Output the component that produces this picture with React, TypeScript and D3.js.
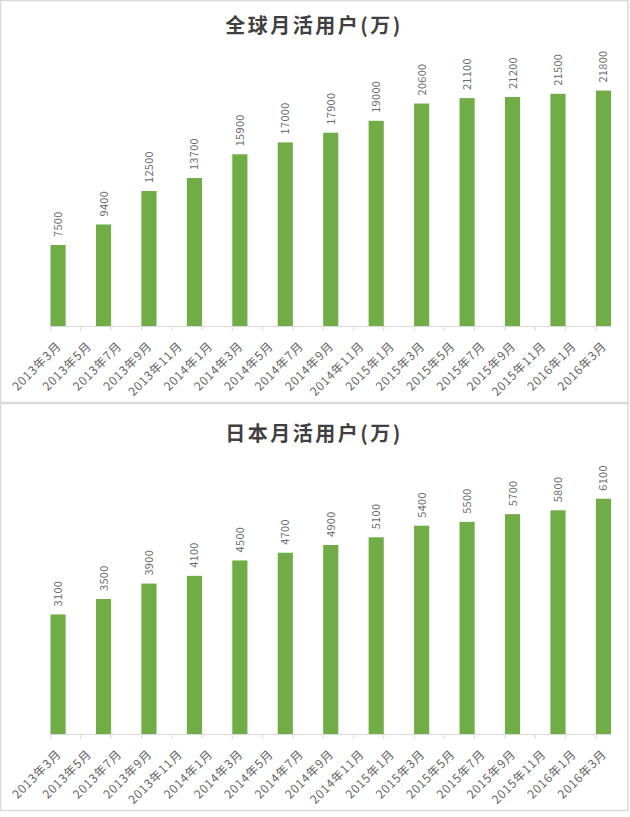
import { useRef, useEffect } from 'react'
import * as d3 from 'd3'

// quarterly data points
const periods = [
  '2013年3月', '2013年6月', '2013年9月', '2013年12月',
  '2014年3月', '2014年6月', '2014年9月', '2014年12月',
  '2015年3月', '2015年6月', '2015年9月', '2015年12月',
  '2016年3月'
]
const globalMAU = [7500, 9400, 12500, 13700, 15900, 17000, 17900, 19000, 20600, 21100, 21200, 21500, 21800]
const japanMAU = [3100, 3500, 3900, 4100, 4500, 4700, 4900, 5100, 5400, 5500, 5700, 5800, 6100]

// axis tick labels (every two months)
const tickLabels = [
  '2013年3月', '2013年5月', '2013年7月', '2013年9月', '2013年11月',
  '2014年1月', '2014年3月', '2014年5月', '2014年7月', '2014年9月', '2014年11月',
  '2015年1月', '2015年3月', '2015年5月', '2015年7月', '2015年9月', '2015年11月',
  '2016年1月', '2016年3月'
]

const W = 630
const H = 817
const GREEN = '#70AD47'
const FONT = '"Noto Sans CJK SC", "Open Sans", sans-serif'

// month index counted from 2013年3月
function monthIndex(label: string) {
  const m = label.match(/(\d+)年(\d+)月/)
  if (!m) return 0
  return (+m[1] - 2013) * 12 + (+m[2] - 3)
}

interface PanelSpec {
  title: string
  values: number[]
  yMax: number
  top: number
  height: number
  baseline: number
  plotTop: number
  titleY: number
}

const panels: PanelSpec[] = [
  { title: '全球月活用户(万)', values: globalMAU, yMax: 25000, top: 0, height: 403, baseline: 326, plotTop: 56, titleY: 33 },
  { title: '日本月活用户(万)', values: japanMAU, yMax: 7000, top: 403, height: 408, baseline: 734, plotTop: 464, titleY: 441 }
]

export default function App() {
  const svgRef = useRef<SVGSVGElement>(null)

  useEffect(() => {
    if (!svgRef.current) return
    const svg = d3.select(svgRef.current)
    svg.selectAll('*').remove()

    const lastMonth = monthIndex(periods[periods.length - 1]) + 1
    const x = d3.scaleLinear().domain([0, lastMonth]).range([50.5, 611])

    panels.forEach(p => {
      const g = svg.append('g')

      // panel frame
      g.append('rect')
        .attr('x', 0.5)
        .attr('y', p.top + 0.5)
        .attr('width', 627.5)
        .attr('height', p.height - 1)
        .attr('fill', '#fff')
        .attr('stroke', '#d9d9d9')
        .attr('stroke-width', 1.5)

      g.append('text')
        .attr('x', 314)
        .attr('y', p.titleY)
        .attr('text-anchor', 'middle')
        .attr('font-family', FONT)
        .attr('font-size', 20)
        .attr('font-weight', 'bold')
        .attr('letter-spacing', 2.5)
        .attr('fill', '#404040')
        .text(p.title)

      const y = d3.scaleLinear().domain([0, p.yMax]).range([p.baseline, p.plotTop])

      // bars
      g.selectAll('.bar')
        .data(p.values)
        .enter()
        .append('rect')
        .attr('x', (_, i) => x(monthIndex(periods[i])))
        .attr('y', d => y(d))
        .attr('width', (_, i) => x(monthIndex(periods[i]) + 1) - x(monthIndex(periods[i])))
        .attr('height', d => p.baseline - y(d))
        .attr('fill', GREEN)

      // data labels
      g.selectAll('.val')
        .data(p.values)
        .enter()
        .append('text')
        .attr('transform', (d, i) => {
          const cx = x(monthIndex(periods[i]) + 0.5) + 4
          return `translate(${cx},${y(d) - 8}) rotate(-90)`
        })
        .attr('font-family', FONT)
        .attr('font-size', 11)
        .attr('letter-spacing', 0.3)
        .attr('fill', '#6a6a6a')
        .text(d => String(d))

      // axis line
      g.append('line')
        .attr('x1', x(0))
        .attr('x2', x(lastMonth))
        .attr('y1', p.baseline + 0.5)
        .attr('y2', p.baseline + 0.5)
        .attr('stroke', '#d9d9d9')
        .attr('stroke-width', 1)

      // ticks
      g.selectAll('.tick')
        .data(tickLabels)
        .enter()
        .append('line')
        .attr('x1', d => x(monthIndex(d)))
        .attr('x2', d => x(monthIndex(d)))
        .attr('y1', p.baseline)
        .attr('y2', p.baseline + 5)
        .attr('stroke', '#d9d9d9')

      g.selectAll('.tlabel')
        .data(tickLabels)
        .enter()
        .append('text')
        .attr('transform', d => `translate(${x(monthIndex(d)) + 11.5},${p.baseline + 21}) rotate(-45)`)
        .attr('text-anchor', 'end')
        .attr('font-family', FONT)
        .attr('font-size', 12)
        .attr('letter-spacing', 0.8)
        .attr('fill', '#666666')
        .text(d => d)
    })
  }, [])

  return (
    <div style={{ position: 'absolute', left: 0, top: 0 }}>
      <svg ref={svgRef} width={W} height={H} style={{ display: 'block', background: '#fff' }} />
    </div>
  )
}
